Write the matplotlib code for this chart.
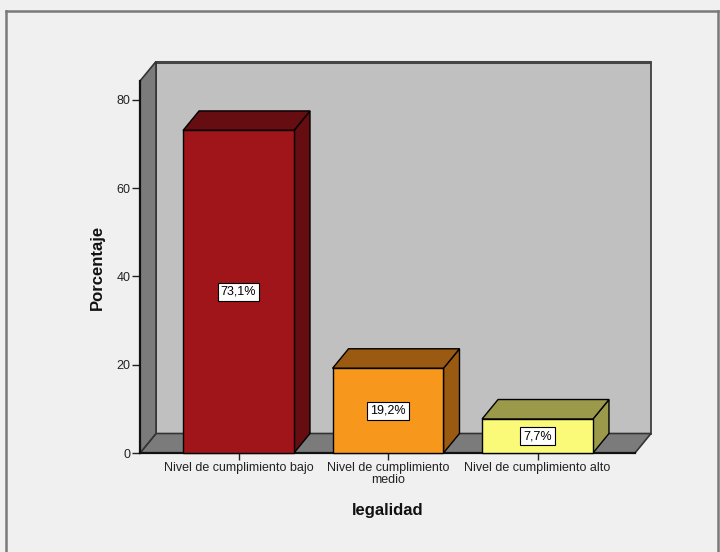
import matplotlib
matplotlib.use("Agg")
import matplotlib.pyplot as plt
from matplotlib.patches import Polygon, Rectangle
from matplotlib.lines import Line2D

categories = ["Nivel de cumplimiento bajo", "Nivel de cumplimiento\nmedio", "Nivel de cumplimiento alto"]
percentages = [73.1, 19.2, 7.7]
value_labels = ["73,1%", "19,2%", "7,7%"]
y_ticks = [0, 20, 40, 60, 80]

front_colors = ["#A0151A", "#F7981D", "#FAFA78"]
shade_colors = ["#650D10", "#9A5A12", "#9A9A4A"]

plt.rcParams["font.family"] = ["Liberation Sans", "DejaVu Sans"]

W, H, DPI = 720, 552, 100
fig = plt.figure(figsize=(W / DPI, H / DPI), dpi=DPI, facecolor="#F0F0F0")

# front plane of the chart in pixels
left_px, right_px, bottom_px, top_px = 140, 635, 453, 81
ax = fig.add_axes([left_px / W, (H - bottom_px) / H,
                   (right_px - left_px) / W, (bottom_px - top_px) / H])
ax.set_facecolor("none")

xmin, xmax = -0.659, 2.652
ymin, ymax = 0, 84.3
ax.set_xlim(xmin, xmax)
ax.set_ylim(ymin, ymax)

# depth offset (pixels) converted to data units
depth_dx_px, depth_dy_px = 16, 19.5
DX = depth_dx_px * (xmax - xmin) / (right_px - left_px)
DY = depth_dy_px * (ymax - ymin) / (bottom_px - top_px)

wall_edge = "#333333"
# back wall
ax.add_patch(Rectangle((xmin + DX, ymin + DY), xmax - xmin, ymax - ymin,
                       facecolor="#C0C0C0", edgecolor=wall_edge, lw=1.2, clip_on=False, zorder=1))
ax.plot([xmin + DX, xmax + DX], [ymax + DY, ymax + DY], color="#444444", lw=2.2,
        clip_on=False, zorder=1.1, solid_capstyle="butt")
# floor
ax.add_patch(Polygon([(xmin, 0), (xmax, 0), (xmax + DX, DY), (xmin + DX, DY)],
                     closed=True, facecolor="#7B7B7B", edgecolor=wall_edge, lw=1.2,
                     clip_on=False, zorder=2))
ax.plot([xmin, xmax], [0, 0], color="#111111", lw=1.6, clip_on=False, zorder=2.1)
# side wall
ax.add_patch(Polygon([(xmin, 0), (xmin, ymax), (xmin + DX, ymax + DY), (xmin + DX, DY)],
                     closed=True, facecolor="#7B7B7B", edgecolor=wall_edge, lw=1.2,
                     clip_on=False, zorder=2))
ax.plot([xmin, xmin], [0, ymax], color="#111111", lw=1.6, clip_on=False, zorder=2.1)

# bars
bar_w = 0.742
for i, (v, fc, sc, lab) in enumerate(zip(percentages, front_colors, shade_colors, value_labels)):
    x0, x1 = i - bar_w / 2, i + bar_w / 2
    z = 3 + i
    ax.add_patch(Polygon([(x1, 0), (x1, v), (x1 + DX, v + DY), (x1 + DX, DY)], closed=True,
                         facecolor=sc, edgecolor="black", lw=1, clip_on=False, zorder=z))
    ax.add_patch(Polygon([(x0, v), (x1, v), (x1 + DX, v + DY), (x0 + DX, v + DY)], closed=True,
                         facecolor=sc, edgecolor="black", lw=1, clip_on=False, zorder=z))
    ax.bar(i, v, width=bar_w, color=fc, edgecolor="black", lw=1, zorder=z + 0.1, clip_on=False)
    ax.text(i, v / 2, lab, ha="center", va="center", fontsize=9, color="black", zorder=z + 0.2,
            bbox=dict(boxstyle="square,pad=0.25", facecolor="white", edgecolor="black", lw=0.8))

for s in ax.spines.values():
    s.set_visible(False)

ax.set_yticks(y_ticks)
ax.set_yticklabels([str(t) for t in y_ticks])
ax.set_xticks(range(len(categories)))
ax.set_xticklabels(categories, linespacing=1.0)
ax.tick_params(axis="y", direction="out", length=6, width=1, color="#222222",
               labelsize=9, labelcolor="#222222", pad=1)
ax.tick_params(axis="x", direction="out", length=5, width=1, color="#222222",
               labelsize=9, labelcolor="#222222", pad=1.5)

ax.set_ylabel("Porcentaje", fontsize=12, fontweight="bold", labelpad=8, color="#111111")
ax.set_xlabel("legalidad", fontsize=12, fontweight="bold", labelpad=12, color="#111111")

# outer frame
for (xa, ya) in [((6 / W, 6 / W), (0, 1 - 11 / H)),
                 ((6 / W, 718 / W), (1 - 11 / H, 1 - 11 / H)),
                 ((718 / W, 718 / W), (1 - 11 / H, 0))]:
    fig.add_artist(Line2D(xa, ya, color="#7A7A7A", lw=1.8, transform=fig.transFigure))

fig.savefig("out.png", dpi=DPI, facecolor=fig.get_facecolor())
